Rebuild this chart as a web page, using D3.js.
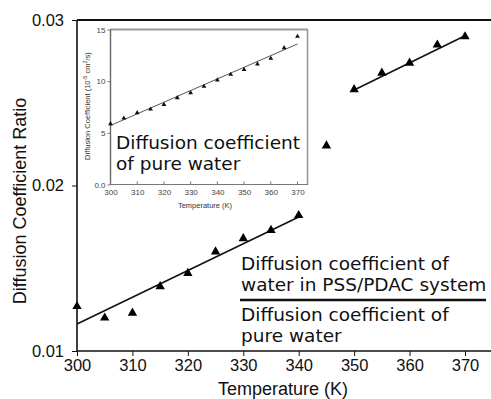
<!DOCTYPE html>
<html><head><meta charset="utf-8">
<script src="https://cdn.jsdelivr.net/npm/d3@7"></script>
<style>body{margin:0;background:#fff}svg{display:block}</style>
</head><body>
<script>
// Main chart data
const temps = [300,305,310,315,320,325,330,335,340,345,350,355,360,365,370];
const ratio = [0.0127,0.0120,0.0123,0.0139,0.0147,0.0160,0.0168,0.0173,0.0182,0.0224,0.0258,0.0268,0.0274,0.0285,0.0290];
const fit1T = [300,340];
const fit1V = [0.01163,0.0181];
const fit2T = [350,370];
const fit2V = [0.02577,0.02905];
const mainXTicks = [300,310,320,330,340,350,360,370];
const mainYTicks = [0.01,0.02,0.03];
// Inset data
const insetVals = [5.87,6.42,6.94,7.29,7.74,8.39,8.87,9.49,10.1,10.65,11.13,11.65,12.2,13.23,14.33];
const insetFitT = [300,370];
const insetFitV = [5.71,13.6];
const insetXTicks = [300,310,320,330,340,350,360,370];
const insetYTicks = [0,5,10,15];

const W=491,H=399;
const svg=d3.select("body").append("svg").attr("width",W).attr("height",H);

const x=d3.scaleLinear().domain([300,370]).range([77,465]);
const y=d3.scaleLinear().domain([0.01,0.03]).range([351,20]);
const AX="Liberation Sans, Arial, sans-serif";

// frame lines
svg.append("line").attr("x1",77).attr("x2",W).attr("y1",20).attr("y2",20).attr("stroke","#111").attr("stroke-width",2);
svg.append("line").attr("x1",77).attr("x2",W).attr("y1",351).attr("y2",351).attr("stroke","#111").attr("stroke-width",1.3);
svg.append("line").attr("x1",77).attr("x2",77).attr("y1",20).attr("y2",351).attr("stroke","#111").attr("stroke-width",1.6);

// x axis ticks
const xa=svg.append("g").attr("transform","translate(0,351)")
  .call(d3.axisBottom(x).tickValues(mainXTicks).tickSize(5).tickSizeOuter(0).tickFormat(d3.format("d")));
xa.select(".domain").remove();
xa.selectAll("line").attr("stroke","#111");
xa.selectAll("text").attr("font-family",AX).attr("font-size",16.5).attr("fill","#111").attr("dy","0.9em").attr("y",5);

const ya=svg.append("g").attr("transform","translate(77,0)")
  .call(d3.axisLeft(y).tickValues(mainYTicks).tickSize(5).tickSizeOuter(0).tickFormat(d3.format(".2f")));
ya.select(".domain").remove();
ya.selectAll("line").attr("stroke","#111");
ya.selectAll("text").attr("font-family",AX).attr("font-size",16.5).attr("fill","#111").attr("x",-13);

svg.append("text").attr("x",283).attr("y",395).attr("text-anchor","middle")
  .attr("font-family",AX).attr("font-size",18).attr("fill","#111").text("Temperature (K)");
svg.append("text").attr("transform","translate(26,201) rotate(-90)").attr("text-anchor","middle")
  .attr("font-family",AX).attr("font-size",18).attr("fill","#111").text("Diffusion Coefficient Ratio");

// fit lines
const line=d3.line().x(d=>x(d[0])).y(d=>y(d[1]));
svg.append("path").attr("d",line(d3.zip(fit1T,fit1V))).attr("stroke","#111").attr("stroke-width",1.6).attr("fill","none");
svg.append("path").attr("d",line(d3.zip(fit2T,fit2V))).attr("stroke","#111").attr("stroke-width",1.6).attr("fill","none");

const tri=d3.symbol().type(d3.symbolTriangle).size(38);
svg.selectAll(".pt").data(d3.zip(temps,ratio)).enter().append("path")
  .attr("d",tri).attr("transform",d=>`translate(${x(d[0])},${y(d[1])})`).attr("fill","#000");

// Inset
const ix=d3.scaleLinear().domain([300,370]).range([110.5,297.5]);
const iy=d3.scaleLinear().domain([0,15]).range([184.5,29.5]);
const ig=svg.append("g");
ig.append("rect").attr("x",110.5).attr("y",29.5).attr("width",197).attr("height",155).attr("fill","#fff").attr("stroke","none");
ig.append("line").attr("x1",110.5).attr("x2",308).attr("y1",29.5).attr("y2",29.5).attr("stroke","#999").attr("stroke-width",2);
ig.append("line").attr("x1",307.5).attr("x2",307.5).attr("y1",29).attr("y2",185).attr("stroke","#999").attr("stroke-width",1.6);
ig.append("line").attr("x1",110.5).attr("x2",308).attr("y1",184.5).attr("y2",184.5).attr("stroke","#777").attr("stroke-width",1.2);
ig.append("line").attr("x1",110.5).attr("x2",110.5).attr("y1",29).attr("y2",185).attr("stroke","#666").attr("stroke-width",1.4);
const IF="Liberation Sans, Arial, sans-serif";
const ixa=ig.append("g").attr("transform","translate(0,184.5)")
  .call(d3.axisBottom(ix).tickValues(insetXTicks).tickSize(0).tickFormat(d3.format("d")));
ixa.select(".domain").remove();
ixa.selectAll("text").attr("font-family",IF).attr("font-size",8).attr("fill","#444").attr("y",5);
ig.selectAll(".ixt").data(insetXTicks).enter().append("line")
  .attr("x1",d=>ix(d)).attr("x2",d=>ix(d)).attr("y1",184.5).attr("y2",181.5).attr("stroke","#777");
const iya=ig.append("g").attr("transform","translate(110.5,0)")
  .call(d3.axisLeft(iy).tickValues(insetYTicks).tickSize(3).tickSizeOuter(0).tickFormat(d=>d===0?"0.0":d));
iya.select(".domain").remove();
iya.selectAll("line").attr("stroke","#777");
iya.selectAll("text").attr("font-family",IF).attr("font-size",8).attr("fill","#444").attr("x",-5);

ig.append("text").attr("x",205).attr("y",207.5).attr("text-anchor","middle")
  .attr("font-family",IF).attr("font-size",7.5).attr("fill","#333").text("Temperature (K)");
const yl=ig.append("text").attr("transform","translate(90,106) rotate(-90)").attr("text-anchor","middle")
  .attr("font-family",IF).attr("font-size",7.5).attr("fill","#333");
yl.append("tspan").text("Diffusion Coefficient (10");
yl.append("tspan").attr("dy",-3).attr("font-size",5.5).text("-5");
yl.append("tspan").attr("dy",3).text(" cm");
yl.append("tspan").attr("dy",-3).attr("font-size",5.5).text("2");
yl.append("tspan").attr("dy",3).text("/s)");

const iline=d3.line().x(d=>ix(d[0])).y(d=>iy(d[1]));
ig.append("path").attr("d",iline(d3.zip(insetFitT,insetFitV))).attr("stroke","#555").attr("stroke-width",1).attr("fill","none");
const itri=d3.symbol().type(d3.symbolTriangle).size(10);
ig.selectAll(".ipt").data(d3.zip(temps,insetVals)).enter().append("path")
  .attr("d",itri).attr("transform",d=>`translate(${ix(d[0])},${iy(d[1])})`).attr("fill","#111");

const DV="DejaVu Sans, sans-serif";
const t1=ig.append("text").attr("font-family",DV).attr("font-size",18.5).attr("fill","#111");
t1.append("tspan").attr("x",116).attr("y",149).text("Diffusion coefficient");
t1.append("tspan").attr("x",116).attr("y",170).text("of pure water");

// fraction annotation
const t2=svg.append("text").attr("font-family",DV).attr("font-size",18.5).attr("fill","#111");
t2.append("tspan").attr("x",241).attr("y",270).text("Diffusion coefficient of");
t2.append("tspan").attr("x",241).attr("y",291).text("water in PSS/PDAC system");
t2.append("tspan").attr("x",241).attr("y",321).text("Diffusion coefficient of");
t2.append("tspan").attr("x",241).attr("y",342).text("pure water");
svg.append("line").attr("x1",240).attr("x2",486).attr("y1",300).attr("y2",300).attr("stroke","#111").attr("stroke-width",2.5);
</script>
</body></html>
